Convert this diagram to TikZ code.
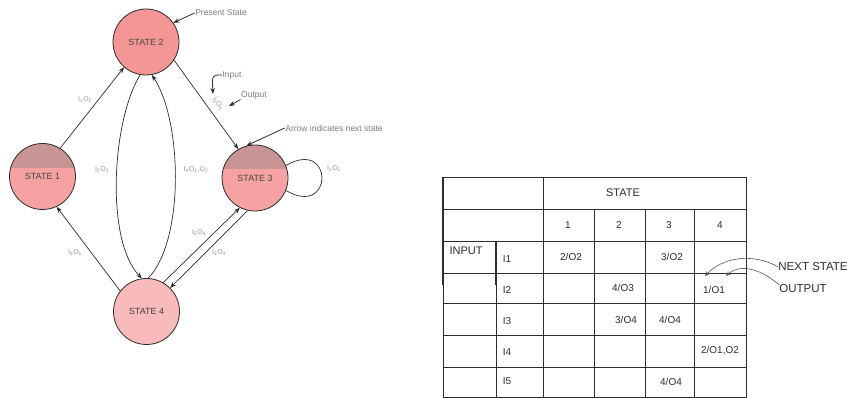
\documentclass[tikz,border=0pt]{standalone}
\usepackage{fontspec}
\setmainfont{Liberation Sans}
\usetikzlibrary{arrows.meta}
\definecolor{sred}{RGB}{244,150,150}
\definecolor{stop}{RGB}{201,148,148}
\definecolor{slow}{RGB}{246,162,162}
\definecolor{spink}{RGB}{248,186,186}
\definecolor{lblc}{RGB}{150,150,150}
\definecolor{annc}{RGB}{125,125,125}
\definecolor{ln}{RGB}{45,45,45}
\definecolor{txt}{RGB}{70,70,70}
\tikzset{
  statenode/.style={circle, draw=ln, line width=0.8pt, minimum size=66pt, inner sep=0pt,
    font=\fontsize{9}{10}\selectfont, text=txt},
  splitfill/.style={path picture={\fill[stop] (path picture bounding box.north west) rectangle ([yshift=#1]path picture bounding box.east);}},
  conn/.style={draw=ln, line width=0.7pt, -{Stealth[length=6pt,width=4.5pt]}},
  plainconn/.style={draw=ln, line width=0.7pt},
  elab/.style={font=\fontsize{7}{8}\selectfont, text=lblc, inner sep=0.5pt},
  ann/.style={font=\fontsize{8.5}{10}\selectfont, text=annc, inner sep=0.5pt},
  annarrow/.style={draw=ln, line width=0.8pt, -{Stealth[length=6pt,width=4.5pt]}},
  tline/.style={draw=ln, line width=0.8pt},
  tcell/.style={font=\fontsize{10}{12}\selectfont, text=ln, inner sep=0pt},
  thead/.style={font=\fontsize{11}{13}\selectfont, text=ln, inner sep=0pt},
  side/.style={font=\fontsize{11.5}{13}\selectfont, text=ln, inner sep=0pt},
  sidearrow/.style={draw=ln!80, line width=0.6pt, -{Stealth[length=5pt,width=4pt]}}
}
\begin{document}
\begin{tikzpicture}[x=1pt,y=-1pt]
\useasboundingbox (0,0) rectangle (849,398);
\fill[white] (0,0) rectangle (849,398);

% states
\node[statenode, fill=sred] (s2) at (146,42) {STATE 2};
\node[statenode, fill=slow, splitfill=8pt] (s1) at (42.5,176.5) {STATE 1};
\node[statenode, fill=slow, splitfill=9pt] (s3) at (255,178) {STATE 3};
\node[statenode, fill=spink, text=ln!90] (s4) at (146.5,311.5) {STATE 4};

% loop on state 3
\draw[plainconn] (s3.22) .. controls ++(48,-28) and ++(48,28) .. (s3.-22);

% connectors
\draw[conn] (s1.58) -- (s2.229);
\draw[conn] (s2.-33) -- (s3.120);
\draw[conn] (s2.260) .. controls (112,120) and (105,240) .. (s4.98);
\draw[conn] (s4.87) .. controls (185,240) and (182,120) .. (s2.-80);
\draw[conn] (s4.142) -- (s1.-65);
\draw[conn] (s4.60) -- (s3.243);
\draw[conn] (s3.257) -- (s4.45);

% edge labels
\node[elab] (l12) at (85,100) {I\textsubscript{1}O\textsubscript{2}};
\node[elab] (l24) at (102,170) {I\textsubscript{2}O\textsubscript{3}};
\node[elab] (l42) at (196,170) {I\textsubscript{4}O\textsubscript{1},O\textsubscript{2}};
\node[elab] (l41) at (75,253) {I\textsubscript{2}O\textsubscript{1}};
\node[elab] (l43) at (199,233) {I\textsubscript{5}O\textsubscript{4}};
\node[elab] (l34) at (219,253) {I\textsubscript{3}O\textsubscript{4}};
\node[elab] (lloop) at (334,169) {I\textsubscript{1}O\textsubscript{2}};
\node[elab, rotate=-53] (l23) at (218,104) {I\textsubscript{3}O\textsubscript{4}};

% annotations
\node[ann] (ps) at (221,13) {Present State};
\node[ann] (inp) at (232,75) {Input};
\node[ann] (outp) at (254,95) {Output};
\node[ann] (nxt) at (334,128) {Arrow indicates next state};
\coordinate (tin) at (213,94);
\coordinate (tout) at (229,106);
\draw[annarrow] (ps.west) -- (s2.35);
\draw[annarrow] (inp.west) .. controls (212,75) .. (tin);
\draw[annarrow] (outp.south west) -- (tout);
\draw[annarrow] (nxt.west) -- (s3.105);

% table
\draw[tline] (443,177) rectangle (746,397);
\foreach \yy in {209,241,273,303,335,367} \draw[tline] (443,\yy) -- (746,\yy);
\draw[tline] (543,177) -- (543,397);
\foreach \xx in {594,645,694} \draw[tline] (\xx,209) -- (\xx,397);
\draw[tline] (496,241) -- (496,397);
\draw[draw=ln, line width=1.4pt] (443,177) -- (443,285);
\draw[draw=ln, line width=1.3pt] (496,241) -- (496,285);

\node[thead] (tstate) at (623,193) {STATE};
\node[tcell] (c1) at (568,225) {1};
\node[tcell] (c2) at (619,225) {2};
\node[tcell] (c3) at (669,225) {3};
\node[tcell] (c4) at (720,225) {4};
\node[thead] (tinput) at (466,251) {INPUT};
\node[tcell] (r1) at (507,259) {I1};
\node[tcell] (r2) at (507,290) {I2};
\node[tcell] (r3) at (507,321) {I3};
\node[tcell] (r4) at (507,352) {I4};
\node[tcell] (r5) at (507,381) {I5};
\node[tcell] (e11) at (571,257) {2/O2};
\node[tcell] (e13) at (672,257) {3/O2};
\node[tcell] (e22) at (623,288) {4/O3};
\node[tcell] (e24) at (714,290) {1/O1};
\node[tcell] (e32) at (626,320) {3/O4};
\node[tcell] (e33) at (670,320) {4/O4};
\node[tcell] (e44) at (720,351) {2/O1,O2};
\node[tcell] (e53) at (671,382) {4/O4};

% side notes
\node[side] (ns) at (813,267) {NEXT STATE};
\node[side] (op) at (803,289) {OUTPUT};
\coordinate (tns) at (705,276);
\coordinate (top) at (726,276);
\draw[sidearrow] (ns.west) .. controls (752,252) and (722,258) .. (tns);
\draw[sidearrow] (op.north west) .. controls (757,266) and (738,265) .. (top);
\end{tikzpicture}
\end{document}
